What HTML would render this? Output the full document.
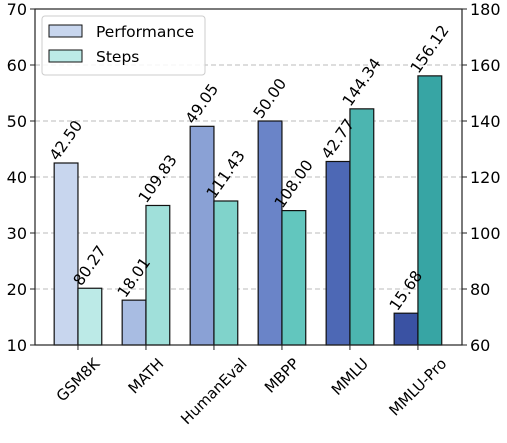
<!DOCTYPE html>
<html><head><style>body{margin:0;background:#fff}svg{font-family:"DejaVu Sans","Liberation Sans",sans-serif}</style></head>
<body>
<svg id="c" width="507" height="438"></svg>
<script>
const categories=["GSM8K","MATH","HumanEval","MBPP","MMLU","MMLU-Pro"];
const performance=[42.50,18.01,49.05,50.00,42.77,15.68];
const steps=[80.27,109.83,111.43,108.00,144.34,156.12];
const leftTicks=[10,20,30,40,50,60,70];
const rightTicks=[60,80,100,120,140,160,180];
const perfColors=["#c8d6ee","#a8bce2","#8aa1d5","#6a84c8","#4d68b5","#3a52a3"];
const stepColors=["#bceae7","#a0e0da","#80d3cb","#62c6be","#4cb5b0","#37a5a4"];
const NS="http://www.w3.org/2000/svg";
const svg=document.getElementById('c');
const L=35,R=462,T=9,B=345;
const xS=i=>L+(i+0.632)*(R-L)/6.28;
const yL=v=>B-(v-10)/60*(B-T);
const yR=v=>B-(v-60)/120*(B-T);
const bw=0.35*(R-L)/6.28;
function el(t,a,txt){const e=document.createElementNS(NS,t);for(const k in a)e.setAttribute(k,a[k]);if(txt!==undefined)e.textContent=txt;svg.appendChild(e);return e;}
function rotLabel(txt,cx,edgeY,ang,fs,below){
 const t=el('text',{x:0,y:0,'font-size':fs,'text-anchor':'middle','dominant-baseline':'central'},txt);
 const len=t.getComputedTextLength();const a=ang*Math.PI/180;
 const h=len*Math.sin(a)+fs*0.75*Math.cos(a);
 const cy=below?edgeY+h/2:edgeY-h/2;
 t.setAttribute('x',cx);t.setAttribute('y',cy);
 t.setAttribute('transform',`rotate(${-ang} ${cx} ${cy})`);
 return t;
}
leftTicks.forEach(v=>{
 if(v>10&&v<70){const g=el('line',{x1:L,x2:R,y1:yL(v),y2:yL(v),stroke:'#bbb','stroke-dasharray':'5,3','stroke-width':1});
 
 }
 el('line',{x1:L-5,x2:L,y1:yL(v),y2:yL(v),stroke:'#222'});
 const t=el('text',{x:L-8,y:yL(v)+6,'text-anchor':'end','font-size':16},v);
 
 
});
rightTicks.forEach(v=>{
 el('line',{x1:R,x2:R+5,y1:yR(v),y2:yR(v),stroke:'#222'});
 const t=el('text',{x:R+8,y:yR(v)+6,'font-size':16},v);
 
 
});
categories.forEach((c,i)=>{
 const cx=xS(i);
 const p=el('rect',{x:cx-bw,y:yL(performance[i]),width:bw,height:B-yL(performance[i]),fill:perfColors[i],stroke:'#111','stroke-width':1.2});
 
 
 const s=el('rect',{x:cx,y:yR(steps[i]),width:bw,height:B-yR(steps[i]),fill:stepColors[i],stroke:'#111','stroke-width':1.2});
 
 
 const pl=rotLabel(performance[i].toFixed(2),cx-bw/2,yL(performance[i])-1,55,15.5,false);
 
 
 const sl=rotLabel(steps[i].toFixed(2),cx+bw/2,yR(steps[i])-1,55,15.5,false);
 
 
 el('line',{x1:cx,x2:cx,y1:B,y2:B+5,stroke:'#222'});
 const xl=rotLabel(c,cx,B+12,45,15,true);
 
 
});
el('rect',{x:L,y:T,width:R-L,height:B-T,fill:'none',stroke:'#222','stroke-width':1.2});
const lg=el('rect',{x:42,y:16,width:163,height:59,rx:3,fill:'#fff','fill-opacity':0.85,stroke:'#ccc'});


el('rect',{x:49,y:25,width:33,height:12,fill:perfColors[0],stroke:'#111'});
const l1=el('text',{x:96,y:37,'font-size':15.5},'Performance');


el('rect',{x:49,y:50,width:33,height:12,fill:stepColors[0],stroke:'#111'});
const l2=el('text',{x:96,y:62,'font-size':15.5},'Steps');


</script>
</body></html>
